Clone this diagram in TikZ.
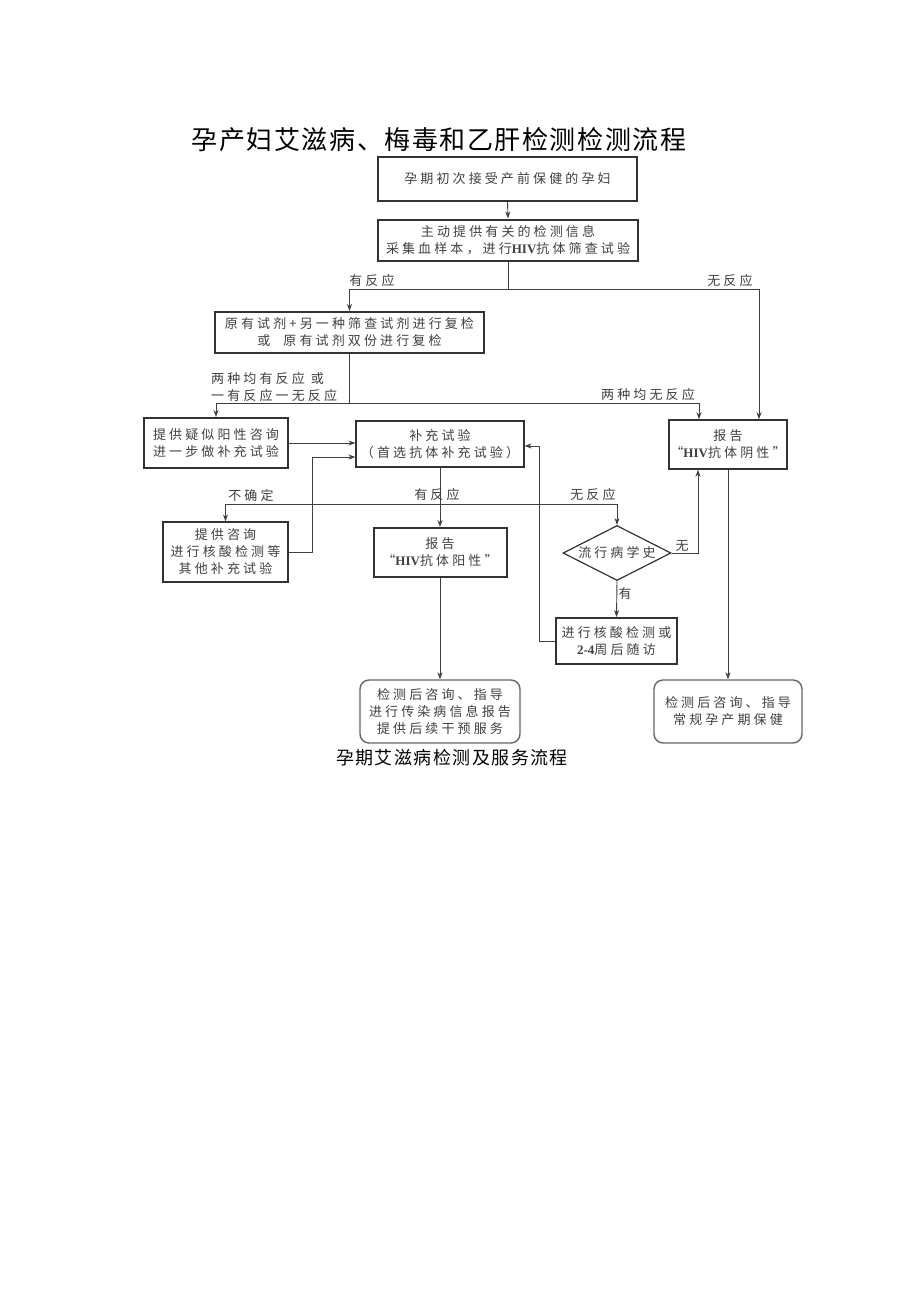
\documentclass[tikz,border=0pt]{standalone}
\usepackage{fontspec}
\setmainfont{Noto Sans CJK SC}
\newfontfamily\boxfont[LetterSpace=24]{Noto Sans CJK SC}
\newfontfamily\titlefont[LetterSpace=6]{Noto Sans CJK SC}
\newfontfamily\capfont[LetterSpace=8]{Noto Sans CJK SC}
\newfontfamily\latinfont{Liberation Serif}
\newcommand\hiv{{\latinfont\bfseries HIV}}
\newcommand\twofour{{\latinfont\bfseries 2-4}}
\usetikzlibrary{shapes.geometric,arrows.meta}
\tikzset{
  box/.style={draw=black!80, line width=1.2pt, inner sep=0pt, align=center, text=black!75,
    font={\boxfont\fontsize{13}{17}\selectfont}},
  thickbox/.style={box, line width=2pt},
  roundbox/.style={box, draw=black!60, line width=1.4pt, rounded corners=9pt},
  conn/.style={draw=black!75, line width=0.9pt},
  arr/.style={conn, -{Stealth[length=7pt,width=5pt]}},
  lbl/.style={font={\boxfont\fontsize{13}{17}\selectfont}, text=black!75, inner sep=0pt},
}
\begin{document}
\begin{tikzpicture}[x=1pt,y=-1pt]
\fill[white] (0,0) rectangle (920,1301);
\useasboundingbox (0,0) rectangle (920,1301);

\node[font={\titlefont\fontsize{26}{30}\selectfont}] (title) at (439,140) {孕产妇艾滋病、梅毒和乙肝检测检测流程};

\node[box, line width=1.5pt, minimum width=259pt, minimum height=44pt] (b1) at (507.5,179) {孕期初次接受产前保健的孕妇};
\node[thickbox, minimum width=260pt, minimum height=41pt] (b2) at (508,240) {主动提供有关的检测信息\\采集血样本，进行\hiv 抗体筛查试验};
\node[thickbox, minimum width=269pt, minimum height=41pt] (b3) at (349.5,332.5) {原有试剂+另一种筛查试剂进行复检\\或\quad 原有试剂双份进行复检};
\node[thickbox, minimum width=144pt, minimum height=50pt] (b4) at (216,443) {提供疑似阳性咨询\\进一步做补充试验};
\node[box, minimum width=168pt, minimum height=46pt] (b5) at (440,444) {补充试验\\（首选抗体补充试验）};
\node[box, line width=1.5pt, minimum width=118pt, minimum height=49pt] (rneg) at (728,444.5) {报告\\“\hiv 抗体阴性”};
\node[box, minimum width=125pt, minimum height=60pt] (b6) at (225.5,552) {提供咨询\\进行核酸检测等\\其他补充试验};
\node[thickbox, minimum width=133pt, minimum height=49pt] (b7) at (440,552.5) {报告\\“\hiv 抗体阳性”};
\node[box, diamond, aspect=2, minimum width=108pt, minimum height=55pt] (dm) at (617,553) {流行病学史};
\node[thickbox, minimum width=121pt, minimum height=46pt] (b8) at (616.5,641) {进行核酸检测或\\\twofour 周后随访};
\node[roundbox, minimum width=160pt, minimum height=63pt] (b9) at (440,711.5) {检测后咨询、指导\\进行传染病信息报告\\提供后续干预服务};
\node[roundbox, minimum width=148pt, minimum height=63pt] (b10) at (728,711.5) {检测后咨询、指导\\常规孕产期保健};

\node[font={\capfont\fontsize{18}{22}\selectfont}] (cap) at (452,758) {孕期艾滋病检测及服务流程};

% labels
\node[lbl] (l1) at (372,281) {有反应};
\node[lbl] (l2) at (730,281) {无反应};
\node[lbl, align=left, anchor=west] (l3) at (211,387) {两种均有反应\ 或\\一有反应一无反应};
\node[lbl] (l4) at (648,395) {两种均无反应};
\node[lbl] (l5) at (251,496) {不确定};
\node[lbl] (l6) at (437,495) {有反应};
\node[lbl] (l7) at (593,495) {无反应};
\node[lbl] (l8) at (682,546) {无};
\node[lbl] (l9) at (625,594) {有};

% connectors
\draw[arr] (b1.south) -- (b2.north);
\coordinate (s1) at (508,289);
\draw[conn] (b2.south) -- (s1);
\draw[arr] (s1) -| (b3.north);
\draw[arr] (s1) -| ([xshift=31pt]rneg.north);

\coordinate (s2) at (349.5,403);
\draw[conn] (b3.south) -- (s2);
\draw[arr] (s2) -| (b4.north);
\draw[arr] (s2) -| ([xshift=-29pt]rneg.north);

\draw[arr] (b4.east) -- (b4.east -| b5.west);
\draw[arr] (b6.east) -- ++(24,0) |- ([yshift=-13pt]b5.west);

\draw[arr] (b5.south) -- (b7.north);
\coordinate (s3) at (440,504);
\draw[arr] (s3) -| (b6.north);
\draw[arr] (s3) -| (dm.north);

\draw[arr] (dm.east) -| ([xshift=-30pt]rneg.south);
\draw[arr] (dm.south) -- (b8.north);
\draw[arr] (b8.west) -- ++(-16,0) |- ([yshift=-2pt]b5.east);

\draw[arr] (b7.south) -- (b9.north);
\draw[arr] (rneg.south) -- (b10.north);
\end{tikzpicture}
\end{document}
